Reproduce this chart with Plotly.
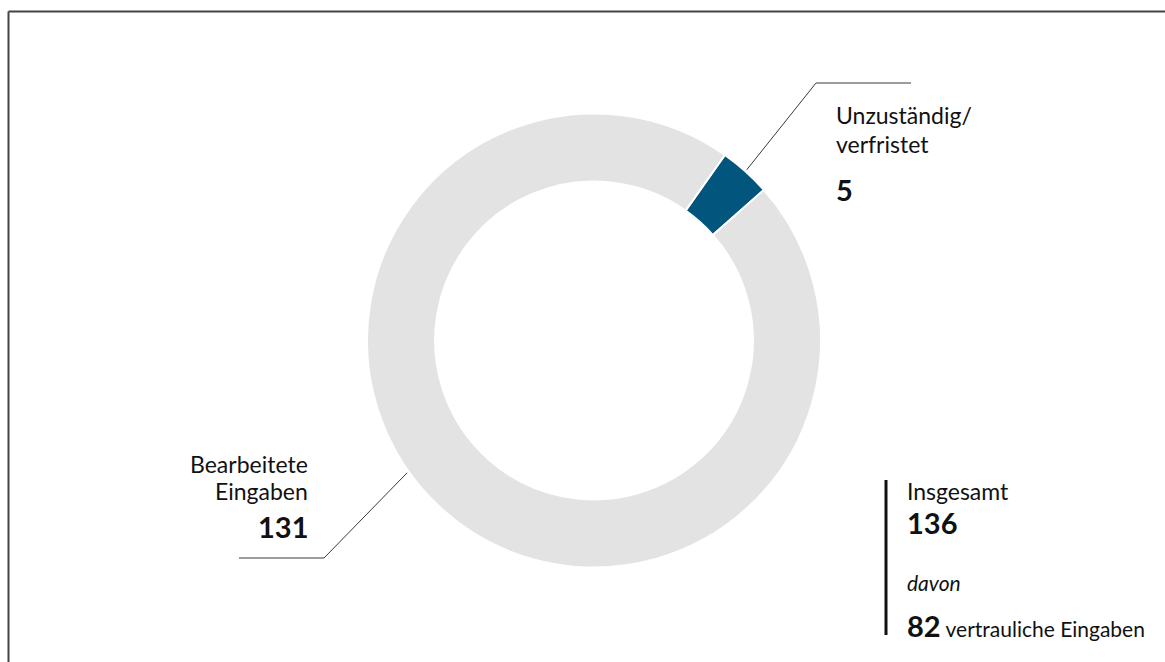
import math
import plotly.graph_objects as go

W, H = 1165, 662

# ---- data ----
categories = ["Unzuständig/verfristet", "Bearbeitete Eingaben"]
values = [5, 131]
colors = ["#02567d", "#e3e3e3"]
total_label = "Insgesamt"
total_value = sum(values)          # 136
confidential_value = 82
confidential_label = "vertrauliche Eingaben"

# ---- geometry (pixels) ----
cx, cy, r_out = 594, 340.5, 227
rotation = 35.2
hole = 0.70

def px(x, y):
    return x / W, 1 - y / H

FONT = "Lato"
TXT = "#111111"

fig = go.Figure()
fig.add_trace(go.Pie(
    labels=categories, values=values, sort=False, direction="clockwise",
    rotation=rotation, hole=hole,
    marker=dict(colors=colors, line=dict(color="white", width=2)),
    textinfo="none", hoverinfo="none", showlegend=False,
    domain=dict(x=[(cx - r_out) / W, (cx + r_out) / W],
                y=[1 - (cy + r_out) / H, 1 - (cy - r_out) / H]),
))

shapes = []
def line(x0, y0, x1, y1, color="#3a3a3a", width=1):
    a, b = px(x0, y0)
    c, d = px(x1, y1)
    shapes.append(dict(type="line", xref="paper", yref="paper", x0=a, y0=b, x1=c, y1=d,
                       line=dict(color=color, width=width)))

def point_at(angle_deg, r):
    a = math.radians(angle_deg)
    return cx + r * math.sin(a), cy - r * math.cos(a)

# leader for small slice: mid angle of the slice
tot = sum(values)
mid_small = rotation + 360 * values[0] / tot / 2
sx, sy = point_at(mid_small, r_out + 2)
line(sx, sy, 816, 83)
line(816, 83, 911, 83)

# leader for large slice
gx, gy = point_at(234.7, r_out + 2)
line(gx, gy, 324, 558)
line(324, 558, 239, 558)

# summary bar
line(886, 480, 886, 635, color="#111111", width=3)

# frame
line(8.5, 11.5, 1166, 11.5, color="#444444", width=2)
line(8.5, 11.5, 8.5, 663, color="#444444", width=2)

annotations = []
def text(x, y_base, s, size, xanchor="left", bold=False, italic=False):
    # y_base: baseline in px; place box center relative to baseline
    yc = y_base - 0.36 * size
    a, b = px(x, yc)
    if bold:
        s = f"<b>{s}</b>"
    if italic:
        s = f"<i>{s}</i>"
    annotations.append(dict(x=a, y=b, xref="paper", yref="paper", text=s, showarrow=False,
                            xanchor=xanchor, yanchor="middle",
                            font=dict(family=FONT, size=size, color=TXT)))

text(834, 123, "Unzuständig/", 23)
text(834, 152, "verfristet", 23)
text(834, 200, str(values[0]), 29, bold=True)

text(310, 472, "Bearbeitete", 23, xanchor="right")
text(310, 499, "Eingaben", 23, xanchor="right")
text(310, 537, str(values[1]), 29, xanchor="right", bold=True)

text(905, 499, total_label, 23)
text(905, 533, str(total_value), 29, bold=True)
text(905, 590, "davon", 21, italic=True)
annotations.append(dict(x=905 / W, y=1 - (636 - 0.36 * 29) / H, xref="paper", yref="paper",
                        text=f"<b><span style='font-size:29px'>{confidential_value}</span></b> "
                             f"<span style='font-size:21px'>{confidential_label}</span>",
                        showarrow=False, xanchor="left", yanchor="middle",
                        font=dict(family=FONT, size=21, color=TXT)))

fig.update_layout(width=W, height=H, margin=dict(l=0, r=0, t=0, b=0),
                  paper_bgcolor="white", plot_bgcolor="white",
                  shapes=shapes, annotations=annotations)
fig.write_html("out.html")
